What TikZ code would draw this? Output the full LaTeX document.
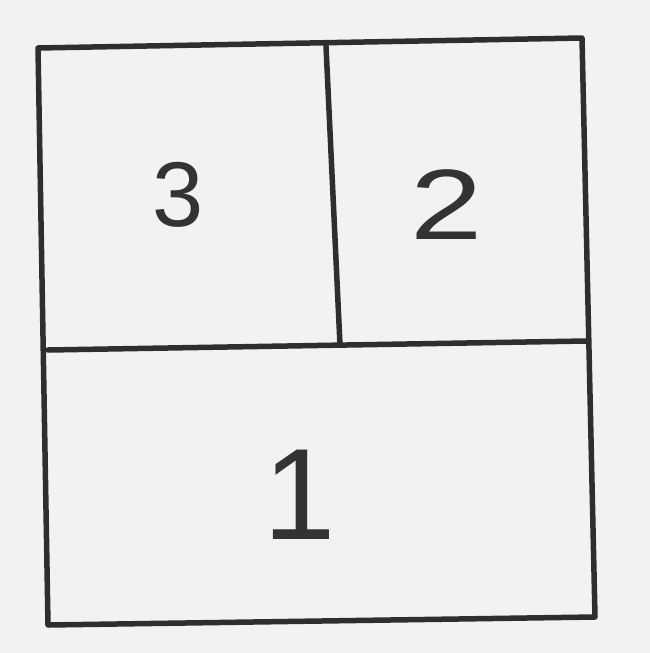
\documentclass[tikz,border=0pt]{standalone}
\usepackage{fontspec}
\setmainfont{Liberation Sans}
\begin{document}
\begin{tikzpicture}[x=1pt,y=-1pt,
  stroke/.style={draw=black!82,line width=5.5pt,line cap=round,line join=round},
  digit/.style={text=black!80,inner sep=0pt}]
\useasboundingbox (0,0) rectangle (650,653);
\fill[black!5] (0,0) rectangle (650,653);
\coordinate (tl) at (38,48);
\coordinate (tr) at (582,38);
\coordinate (br) at (595,617);
\coordinate (bl) at (48,625);
\coordinate (ml) at (48,350);
\coordinate (mr) at (586,341);
\coordinate (vt) at (326,46);
\coordinate (vb) at (340,345);
\draw[stroke] (tl) -- (tr) -- (br) -- (bl) -- cycle;
\draw[stroke] (ml) -- (mr);
\draw[stroke] (vt) -- (vb);
\node[digit,font=\fontsize{92}{92}\selectfont] (n3) at (178,195) {3};
\node[digit,font=\fontsize{100}{100}\selectfont\addfontfeature{FakeStretch=1.3}] (n2) at (447,205) {2};
\node[digit,font=\fontsize{130}{130}\selectfont] (n1) at (300,495) {1};
\end{tikzpicture}
\end{document}
